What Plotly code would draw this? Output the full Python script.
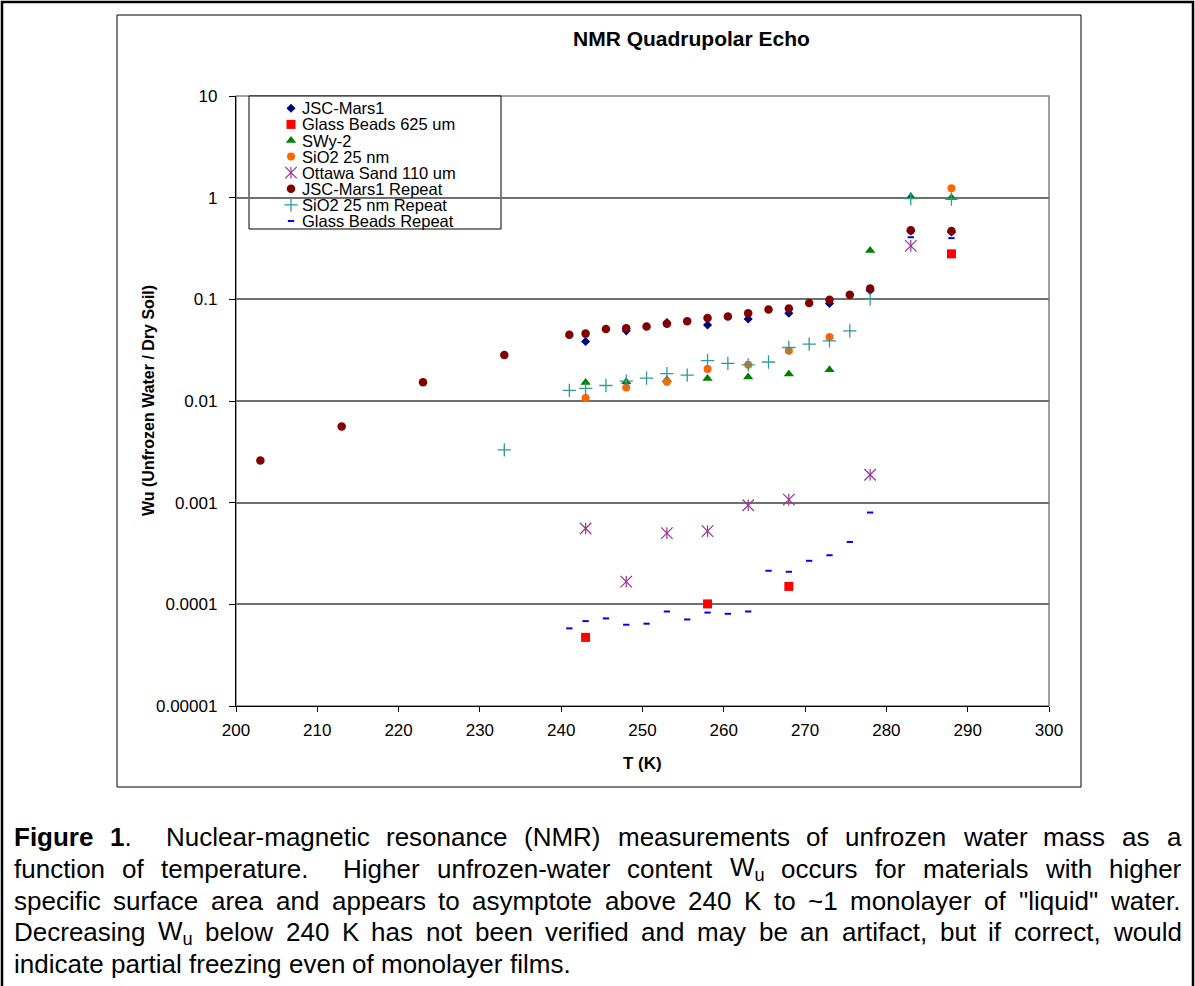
import re
import plotly.graph_objects as go

# ---------------- data ----------------
series_names = ["JSC-Mars1", "Glass Beads 625 um", "SWy-2", "SiO2 25 nm",
                "Ottawa Sand 110 um", "JSC-Mars1 Repeat", "SiO2 25 nm Repeat",
                "Glass Beads Repeat"]

T_jsc = [243, 248, 253, 258, 263, 268, 273, 278, 283, 288]
W_jsc = [0.0385, 0.049, 0.059, 0.056, 0.064, 0.073, 0.091, 0.122, 0.47, 0.46]

T_glass = [243, 258, 268, 288]
W_glass = [4.73e-5, 1.01e-4, 1.50e-4, 0.28]

T_swy = [243, 248, 253, 258, 263, 268, 273, 278, 283, 288]
W_swy = [0.0152, 0.0155, 0.0162, 0.0166, 0.0172, 0.0184, 0.0203, 0.302, 1.02, 1.0]

T_sio2 = [243, 248, 253, 258, 263, 268, 273, 288]
W_sio2 = [0.0107, 0.0136, 0.0155, 0.0206, 0.0227, 0.0312, 0.0425, 1.24]

T_ott = [243, 248, 253, 258, 263, 268, 278, 283]
W_ott = [0.000557, 0.000167, 0.000501, 0.000524, 0.000944, 0.00107, 0.00188, 0.336]

T_jscr = [203, 213, 223, 233, 241, 243, 245.5, 248, 250.5, 253, 255.5, 258, 260.5,
          263, 265.5, 268, 270.5, 273, 275.5, 278, 283, 288]
W_jscr = [0.0026, 0.0056, 0.0153, 0.0283, 0.0448, 0.046, 0.051, 0.052, 0.054, 0.0574,
          0.061, 0.0654, 0.0678, 0.0731, 0.0794, 0.0813, 0.0918, 0.099, 0.111, 0.128,
          0.478, 0.47]

T_sio2r = [233, 241, 243, 245.5, 248, 250.5, 253, 255.5, 258, 260.5, 263, 265.5, 268,
           270.5, 273, 275.5, 278, 283, 288]
W_sio2r = [0.0033, 0.0127, 0.0133, 0.0142, 0.0157, 0.0168, 0.0186, 0.0180, 0.0250,
           0.0234, 0.0227, 0.0242, 0.0336, 0.0363, 0.0391, 0.049, 0.1004, 0.98, 0.97]

T_gbr = [241, 243, 245.5, 248, 250.5, 253, 255.5, 258, 260.5, 263, 265.5, 268, 270.5,
         273, 275.5, 278, 283, 288]
W_gbr = [5.8e-5, 6.84e-5, 7.27e-5, 6.3e-5, 6.45e-5, 8.5e-5, 7.1e-5, 8.3e-5, 8.07e-5,
         8.5e-5, 2.14e-4, 2.09e-4, 2.68e-4, 3.04e-4, 4.11e-4, 8.0e-4, 0.408, 0.40]

x_ticks = [200, 210, 220, 230, 240, 250, 260, 270, 280, 290, 300]
y_ticks = [1e-5, 1e-4, 1e-3, 1e-2, 1e-1, 1, 10]
y_tick_text = ["0.00001", "0.0001", "0.001", "0.01", "0.1", "1", "10"]

chart_title = "NMR Quadrupolar Echo"
x_title = "T (K)"
y_title = "Wu (Unfrozen Water / Dry Soil)"

caption_lines = [
    "<b>Figure</b> <b>1</b>.  Nuclear-magnetic resonance (NMR) measurements of unfrozen water mass as a",
    "function of temperature.  Higher unfrozen-water content W<sub>u</sub> occurs for materials with higher",
    "specific surface area and appears to asymptote above 240 K to ~1 monolayer of \"liquid\" water.",
    "Decreasing W<sub>u</sub> below 240 K has not been verified and may be an artifact, but if correct, would",
    "indicate partial freezing even of monolayer films.",
]

# ---------------- layout geometry ----------------
W, H = 1195, 986
ML, MR, MT, MB = 236, 146, 96, 280
PW = W - ML - MR
PH = H - MT - MB
FONT = "Liberation Sans, Arial, Helvetica, sans-serif"


def px(x):
    return (x - ML) / PW


def py(y):
    return (H - MB - y) / PH


styles = [
    dict(symbol="diamond", size=7, color="#000080", line=dict(width=0)),
    dict(symbol="square", size=9, color="#FF0000", line=dict(width=0)),
    dict(symbol="triangle-up", size=9, color="#008000", line=dict(width=0)),
    dict(symbol="circle", size=8, color="#FF6600", line=dict(width=0)),
    dict(symbol="x-thin-open", size=11.5, color="#993399", line=dict(width=1.2, color="#993399")),
    dict(symbol="circle", size=8.5, color="#800000", line=dict(width=0)),
    dict(symbol="cross-thin-open", size=9.5, color="#339999", line=dict(width=1.3, color="#339999")),
    dict(symbol="line-ew-open", size=4.5, color="#0000FF", line=dict(width=2, color="#0000FF")),
]
ott_bar = dict(symbol="line-ns-open", size=8.3, color="#993399", line=dict(width=1.2, color="#993399"))

data = [(T_jsc, W_jsc), (T_glass, W_glass), (T_swy, W_swy), (T_sio2, W_sio2),
        (T_ott, W_ott), (T_jscr, W_jscr), (T_sio2r, W_sio2r), (T_gbr, W_gbr)]

fig = go.Figure()
for i, ((xs, ys), name, st) in enumerate(zip(data, series_names, styles)):
    fig.add_trace(go.Scatter(x=xs, y=ys, mode="markers", name=name, marker=st,
                             showlegend=False, cliponaxis=False))
    if i == 4:
        fig.add_trace(go.Scatter(x=xs, y=ys, mode="markers", name=name, marker=ott_bar,
                                 showlegend=False, cliponaxis=False, hoverinfo="skip"))

# ---------------- manual legend (compact rows like the original) ----------------
LEG_BOX = (249, 96, 501, 229)
LEG_MX, LEG_TX, LEG_Y0, LEG_DY = 291, 302, 108.3, 16.1
annotations = []
for i, (name, st) in enumerate(zip(series_names, styles)):
    ry = LEG_Y0 + i * LEG_DY
    fig.add_trace(go.Scatter(x=[LEG_MX], y=[ry], xaxis="x2", yaxis="y2", mode="markers",
                             marker=st, showlegend=False, hoverinfo="skip", cliponaxis=False))
    if i == 4:
        fig.add_trace(go.Scatter(x=[LEG_MX], y=[ry], xaxis="x2", yaxis="y2", mode="markers",
                                 marker=ott_bar, showlegend=False, hoverinfo="skip",
                                 cliponaxis=False))
    annotations.append(dict(text=name, x=px(LEG_TX), y=py(ry), xref="paper", yref="paper",
                            xanchor="left", yanchor="middle", showarrow=False,
                            borderpad=0, borderwidth=0,
                            font=dict(family=FONT, size=16.5, color="black")))

# ---------------- titles ----------------
annotations.append(dict(text="<b>%s</b>" % chart_title, x=px(691), y=py(38), xref="paper",
                        yref="paper", xanchor="center", yanchor="middle", showarrow=False,
                        font=dict(family=FONT, size=21, color="black")))
annotations.append(dict(text="<b>%s</b>" % x_title, x=px(642), y=py(763), xref="paper",
                        yref="paper", xanchor="center", yanchor="middle", showarrow=False,
                        font=dict(family=FONT, size=17, color="black")))
annotations.append(dict(text="<b>%s</b>" % y_title, x=px(148), y=py(401), xref="paper",
                        yref="paper", xanchor="center", yanchor="middle", showarrow=False,
                        textangle=-90, font=dict(family=FONT, size=16, color="black")))

# ---------------- justified caption ----------------
AW = {' ': 278, '!': 278, '"': 355, '(': 333, ')': 333, ',': 278, '-': 333, '.': 278,
      '/': 278, '~': 584,
      'A': 667, 'B': 667, 'C': 722, 'D': 722, 'E': 667, 'F': 611, 'G': 778, 'H': 722,
      'I': 278, 'J': 500, 'K': 667, 'L': 556, 'M': 833, 'N': 722, 'O': 778, 'P': 667,
      'Q': 778, 'R': 722, 'S': 667, 'T': 611, 'U': 722, 'V': 667, 'W': 944, 'X': 667,
      'Y': 667, 'Z': 611,
      'a': 556, 'b': 556, 'c': 500, 'd': 556, 'e': 556, 'f': 278, 'g': 556, 'h': 556,
      'i': 222, 'j': 222, 'k': 500, 'l': 222, 'm': 833, 'n': 556, 'o': 556, 'p': 556,
      'q': 556, 'r': 333, 's': 500, 't': 278, 'u': 556, 'v': 500, 'w': 722, 'x': 500,
      'y': 500, 'z': 500}
for d in "0123456789":
    AW[d] = 556
AWB = {'F': 611, 'i': 278, 'g': 611, 'u': 611, 'r': 389, 'e': 556, '1': 556}


def word_width(word, size):
    bold = sub = False
    w = 0.0
    for part in re.split(r'(</?b>|</?sub>)', word):
        if part == '<b>':
            bold = True
        elif part == '</b>':
            bold = False
        elif part == '<sub>':
            sub = True
        elif part == '</sub>':
            sub = False
        elif part:
            s = size * (0.7 if sub else 1.0)
            for c in part:
                u = AWB.get(c, AW.get(c, 556)) if bold else AW.get(c, 556)
                w += u * s / 1000.0
    return w


CAP_SIZE = 26
CAP_LEFT, CAP_RIGHT = 14, 1181
CAP_Y0, CAP_DY = 837, 31.8
for li, line in enumerate(caption_lines):
    words, gaps, pending = [], [], 0
    for tok in line.split(' '):
        if tok == '':
            pending += 1
            continue
        if words:
            gaps.append(pending + 1)
        pending = 0
        words.append(tok)
    widths = [word_width(wd, CAP_SIZE) for wd in words]
    if li < len(caption_lines) - 1:
        unit = (CAP_RIGHT - CAP_LEFT - sum(widths)) / max(sum(gaps), 1)
    else:
        unit = 0.278 * CAP_SIZE
    xpos = CAP_LEFT
    yy = CAP_Y0 + li * CAP_DY
    for k, (wd, ww) in enumerate(zip(words, widths)):
        annotations.append(dict(text=wd, x=px(xpos), y=py(yy), xref="paper", yref="paper",
                                xanchor="left", yanchor="middle", showarrow=False,
                                borderpad=0, borderwidth=0,
                                font=dict(family=FONT, size=CAP_SIZE, color="black")))
        if k < len(gaps):
            xpos += ww + gaps[k] * unit

# ---------------- frames ----------------
shapes = [
    # outer page border
    dict(type="rect", xref="paper", yref="paper", x0=px(2), x1=px(1193), y0=py(2), y1=py(1000),
         line=dict(color="black", width=2.5), layer="above"),
    # chart area frame
    dict(type="rect", xref="paper", yref="paper", x0=px(117), x1=px(1081), y0=py(15), y1=py(787),
         line=dict(color="black", width=1), layer="above"),
    # plot area border (grey)
    dict(type="rect", xref="paper", yref="paper", x0=0, x1=1, y0=0, y1=1,
         line=dict(color="#808080", width=1.5), layer="between"),
    # legend box
    dict(type="rect", xref="paper", yref="paper", x0=px(LEG_BOX[0]), x1=px(LEG_BOX[2]),
         y0=py(LEG_BOX[1]), y1=py(LEG_BOX[3]), fillcolor="white",
         line=dict(color="black", width=1), layer="between"),
]

fig.update_layout(
    width=W, height=H,
    margin=dict(l=ML, r=MR, t=MT, b=MB, pad=0),
    paper_bgcolor="white", plot_bgcolor="white",
    font=dict(family=FONT, color="black"),
    showlegend=False,
    annotations=annotations,
    shapes=shapes,
    xaxis=dict(range=[200, 300], tickvals=x_ticks, ticks="outside", ticklen=5,
               tickcolor="black", tickwidth=1, showline=True, linecolor="black", linewidth=1.3,
               showgrid=False, zeroline=False, ticklabelstandoff=3,
               tickfont=dict(family=FONT, size=17, color="black")),
    yaxis=dict(type="log", range=[-5, 1], tickvals=y_ticks, ticktext=y_tick_text,
               ticks="outside", ticklen=6, tickcolor="black", tickwidth=1,
               showline=True, linecolor="black", linewidth=1.3,
               showgrid=True, gridcolor="#707070", gridwidth=1.5, zeroline=False,
               ticklabelstandoff=8, tickfont=dict(family=FONT, size=17, color="black")),
    xaxis2=dict(range=[ML, W - MR], overlaying="x", visible=False, fixedrange=True),
    yaxis2=dict(range=[H - MB, MT], overlaying="y", visible=False, fixedrange=True),
)

fig.write_html("out.html", config={"displayModeBar": False},
               post_script="document.body.style.margin='0';")
